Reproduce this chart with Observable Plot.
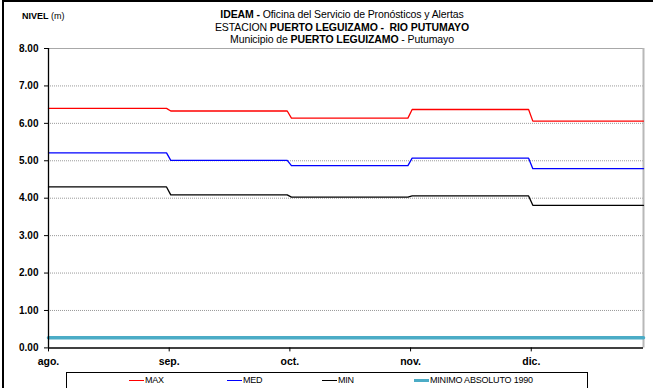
<!DOCTYPE html>
<html>
<head>
<meta charset="utf-8">
<script src="https://cdn.jsdelivr.net/npm/d3@7"></script>
<script src="https://cdn.jsdelivr.net/npm/@observablehq/plot@0.6"></script>
<style>
  html, body { margin: 0; padding: 0; background: #fff; }
  body { width: 653px; height: 388px; overflow: hidden; font-family: "Liberation Sans", Arial, sans-serif; }
  #wrap { position: relative; width: 653px; height: 388px; }
  #frame { position: absolute; left: 2px; top: 0; width: 700px; height: 400px; border-left: 2px solid #000; border-top: 2px solid #000; }
  .title { position: absolute; left: 0; width: 684px; text-align: center; font-size: 10.5px; color: #000; white-space: nowrap; letter-spacing: -0.1px; }
  #ylab { position: absolute; left: 22px; top: 11px; font-size: 9px; }
  #legend { position: absolute; left: 66px; top: 372px; width: 520px; height: 40px; border: 1px solid #000; font-size: 9px; }
  .li { position: absolute; top: 2px; display: flex; align-items: center; white-space: nowrap; letter-spacing: -0.2px; }
  .li span.sw { display: inline-block; width: 15px; margin-right: 1px; }
  svg { position: absolute; left: 0; top: 0; }
</style>
</head>
<body>
<div id="wrap"></div>
<script>
// ---- data ----
const months = ["ago.", "sep.", "oct.", "nov.", "dic."];
const maxValues = [6.40, 6.33, 6.14, 6.37, 6.06];
const medValues = [5.21, 5.01, 4.87, 5.07, 4.79];
const minValues = [4.30, 4.09, 4.03, 4.06, 3.81];
const minimoAbsoluto1990 = 0.27;
const yTicks = [0, 1, 2, 3, 4, 5, 6, 7, 8];
const seriesNames = ["MAX", "MED", "MIN", "MINIMO ABSOLUTO 1990"];
const seriesColors = ["#ff0000", "#0000ff", "#000000", "#4bacc6"];

// x is measured in months from 1 Aug; the last day shown is ~29 Dec
const xEnd = 4.93;
function stepRows(values, name) {
  const rows = [];
  values.forEach((v, i) => {
    const start = i === 0 ? 0 : i + 0.013;
    const end = i === values.length - 1 ? xEnd : i + 1 - 0.022;
    rows.push({x: start, y: v, s: name});
    rows.push({x: end, y: v, s: name});
  });
  return rows;
}
const lines = [
  ...stepRows(maxValues, "MAX"),
  ...stepRows(medValues, "MED"),
  ...stepRows(minValues, "MIN")
];
const minimoRows = [{x: 0, y: minimoAbsoluto1990}, {x: xEnd, y: minimoAbsoluto1990}];

const chart = Plot.plot({
  width: 653,
  height: 388,
  marginLeft: 48,
  marginRight: 10,
  marginTop: 48,
  marginBottom: 40.6,
  style: {fontFamily: "'Liberation Sans', Arial, sans-serif", background: "transparent", overflow: "visible"},
  x: {domain: [0, xEnd]},
  y: {domain: [0, 8]},
  color: {domain: seriesNames, range: seriesColors},
  marks: [
    Plot.ruleY(yTicks.filter(d => d > 0 && d < 8), {stroke: "#9a9a9a", strokeWidth: 1, strokeDasharray: "1,1"}),
    Plot.ruleY([8], {stroke: "#a8a8a8", strokeWidth: 1.2}),
    Plot.ruleX([xEnd], {stroke: "#b8b8b8", strokeWidth: 2}),
    Plot.line(minimoRows, {x: "x", y: "y", stroke: seriesColors[3], strokeWidth: 3.5}),
    Plot.line(lines, {x: "x", y: "y", z: "s", stroke: "s", strokeWidth: 1.3}),
    Plot.axisY({ticks: yTicks, tickFormat: d3.format(".2f"), tickSize: 4, tickPadding: 6, fontSize: 10, fontWeight: "bold", label: null, stroke: "#000"}),
    Plot.ruleX([0], {stroke: "#000", strokeWidth: 1.3}),
    Plot.axisX({ticks: d3.range(months.length), tickFormat: i => months[i], tickSize: 4, tickPadding: 6, fontSize: 10.5, fontWeight: "bold", label: null, stroke: "#000"}),
    Plot.ruleY([0], {stroke: "#000", strokeWidth: 1.5})
  ]
});

const wrap = document.getElementById("wrap");
wrap.appendChild(chart);
chart.querySelectorAll("g[aria-label='x-axis tick label'] text, g[aria-label='y-axis tick label'] text").forEach(t => t.setAttribute("fill", "#000"));

const frame = document.createElement("div");
frame.id = "frame";
wrap.appendChild(frame);

const titles = [
  ["<b>IDEAM -</b> Oficina del Servicio de Pronósticos y Alertas", 8],
  ["ESTACION <b>PUERTO LEGUIZAMO -&nbsp; RIO PUTUMAYO</b>", 21],
  ["Municipio de <b>PUERTO LEGUIZAMO</b> - Putumayo", 33]
];
titles.forEach(([html, top]) => {
  const d = document.createElement("div");
  d.className = "title";
  d.style.top = top + "px";
  d.innerHTML = html;
  wrap.appendChild(d);
});
const yl = document.createElement("div");
yl.id = "ylab";
yl.innerHTML = "<b>NIVEL</b> (m)";
wrap.appendChild(yl);

const legend = document.createElement("div");
legend.id = "legend";
const legendX = [62, 160, 255, 347];
seriesNames.forEach((name, i) => {
  const it = document.createElement("div");
  it.className = "li";
  it.style.left = legendX[i] + "px";
  const sw = document.createElement("span");
  sw.className = "sw";
  sw.style.borderTop = (i === 3 ? 3.5 : 1.3) + "px solid " + seriesColors[i];
  it.appendChild(sw);
  const tx = document.createElement("span");
  tx.textContent = name;
  it.appendChild(tx);
  legend.appendChild(it);
});
wrap.appendChild(legend);
</script>
</body>
</html>
